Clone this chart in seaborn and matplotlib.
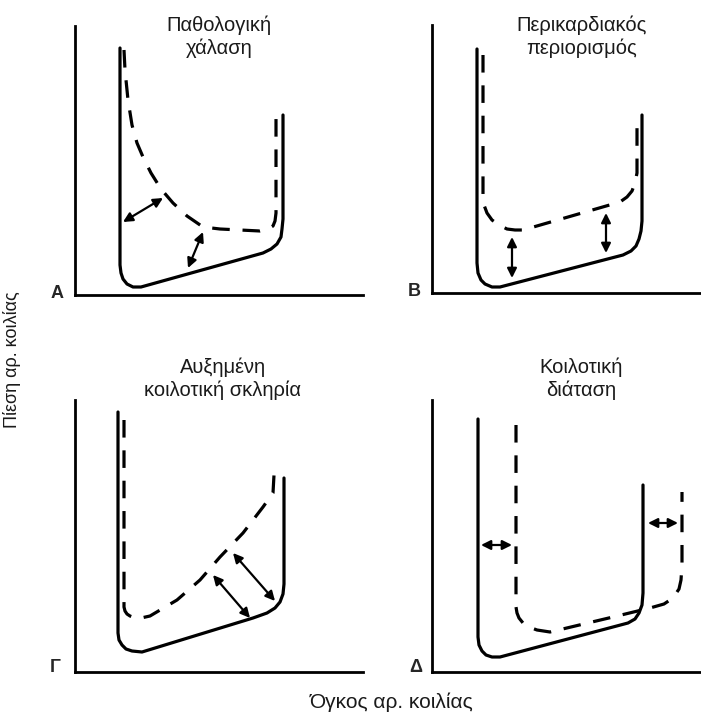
import numpy as np
import matplotlib
matplotlib.use("Agg")
import matplotlib.pyplot as plt
import seaborn as sns

# Curves (arbitrary volume / pressure units, origin at the axes corner)
# Panel A - pathological relaxation
solid_A_x = [45, 45, 46, 48, 52, 58, 66, 188, 196, 202, 206, 207, 208, 208]
solid_A_y = [247, 30, 22, 16, 11, 8, 8, 42, 46, 51, 58, 66, 76, 180]
dash_A_x = [49, 50, 53, 57, 62, 68, 76, 86, 98, 112, 128, 145, 165, 185, 193, 198, 200, 201, 201]
dash_A_y = [245, 225, 195, 170, 152, 138, 122, 106, 92, 79, 68, 66, 65, 64, 66, 69, 74, 82, 178]
arrows_A = [((48, 73), (88, 97)), ((113, 27), (128, 63))]

# Panel B - pericardial constraint
solid_B_x = [45, 45, 46, 49, 53, 60, 68, 191, 199, 204, 207, 209, 210, 210]
solid_B_y = [244, 30, 20, 13, 9, 6, 6, 38, 42, 47, 54, 62, 72, 178]
dash_B_x = [51, 51, 52, 55, 60, 67, 75, 83, 91, 188, 195, 200, 203, 205, 205]
dash_B_y = [238, 96, 88, 80, 73, 68, 64, 63, 63, 91, 96, 102, 110, 120, 175]
arrows_B = [((80, 56), (80, 15)), ((174, 80), (174, 40))]

# Panel Γ - increased ventricular stiffness
solid_C_x = [43, 43, 44, 47, 51, 57, 67, 178, 192, 200, 205, 208, 209, 209]
solid_C_y = [260, 39, 32, 27, 23, 21, 20, 54, 59, 64, 70, 78, 88, 194]
dash_C_x = [49, 49, 50, 52, 55, 60, 66, 75, 102, 125, 145, 168, 188, 198, 199]
dash_C_y = [252, 65, 61, 58, 56, 54, 54, 56, 72, 92, 115, 139, 165, 179, 197]
arrows_C = [((138, 97), (175, 54)), ((158, 119), (200, 71))]

# Panel Δ - ventricular dilation
solid_D_x = [46, 46, 47, 50, 54, 60, 68, 196, 203, 207, 210, 211, 211]
solid_D_y = [253, 35, 27, 21, 17, 15, 15, 49, 53, 59, 67, 79, 187]
dash_D_x = [84, 84, 85, 87, 91, 97, 105, 118, 181, 218, 232, 241, 247, 249, 250, 250]
dash_D_y = [247, 65, 59, 54, 49, 45, 42, 40, 55, 64, 68, 74, 83, 92, 107, 180]
arrows_D = [((49, 127), (80, 127)), ((216, 149), (246, 149))]

titles = ["Παθολογική\nχάλαση", "Περικαρδιακός\nπεριορισμός",
          "Αυξημένη\nκοιλοτική σκληρία", "Κοιλοτική\nδιάταση"]
letters = ["A", "B", "Γ", "Δ"]
x_label = "Όγκος αρ. κοιλίας"
y_label = "Πίεση αρ. κοιλίας"

sns.set_style("white")
plt.rcParams["font.family"] = ["Liberation Sans", "DejaVu Sans"]

W, H = 701, 713
fig = plt.figure(figsize=(W / 100, H / 100), dpi=100)

# axes frames in pixels: (x0, y_bottom, x_right, y_top)
frames = [(75, 295, 363, 26), (432, 293, 701, 25), (75, 672, 363, 400), (432, 672, 701, 400)]
panels = [
    (solid_A_x, solid_A_y, dash_A_x, dash_A_y, arrows_A),
    (solid_B_x, solid_B_y, dash_B_x, dash_B_y, arrows_B),
    (solid_C_x, solid_C_y, dash_C_x, dash_C_y, arrows_C),
    (solid_D_x, solid_D_y, dash_D_x, dash_D_y, arrows_D),
]
title_pos = [(219, 37), (582, 37), (223, 379), (581, 379)]
letter_pos = [(57, 293), (414, 291), (55, 667), (416, 667)]

for (x0, yb, x1, yt), (sx, sy, dx, dy, arrs) in zip(frames, panels):
    ax = fig.add_axes([x0 / W, 1 - yb / H, (x1 - x0) / W, (yb - yt) / H])
    ax.set_xlim(0, x1 - x0)
    ax.set_ylim(0, yb - yt)
    sns.lineplot(x=sx, y=sy, sort=False, estimator=None, color="black",
                 lw=2.3, ax=ax)
    sns.lineplot(x=dx, y=dy, sort=False, estimator=None, color="black",
                 lw=2.3, linestyle=(0, (5.5, 4)), ax=ax)
    for start, end in arrs:
        ax.annotate("", xy=end, xytext=start,
                    arrowprops=dict(arrowstyle="<|-|>", color="black", lw=1.6,
                                    mutation_scale=14, shrinkA=0, shrinkB=0))
    for side in ["top", "right"]:
        ax.spines[side].set_visible(False)
    for side in ["left", "bottom"]:
        ax.spines[side].set_linewidth(2)
        ax.spines[side].set_color("black")
    ax.set_xticks([])
    ax.set_yticks([])
    ax.set_xlabel("")
    ax.set_ylabel("")
    ax.patch.set_alpha(0)

for t, (px, py) in zip(titles, title_pos):
    fig.text(px / W, 1 - py / H, t, ha="center", va="center", fontsize=14.5,
             color="#1a1a1a")
for l, (px, py) in zip(letters, letter_pos):
    fig.text(px / W, 1 - py / H, l, ha="center", va="center", fontsize=13,
             fontweight="bold")

fig.text(392 / W, 1 - 702 / H, x_label, ha="center", va="center", fontsize=15,
         color="#1a1a1a")
fig.text(12 / W, 1 - 360 / H, y_label, ha="center", va="center", fontsize=13,
         rotation=90, color="#1a1a1a")

fig.savefig("out.png", dpi=100)
